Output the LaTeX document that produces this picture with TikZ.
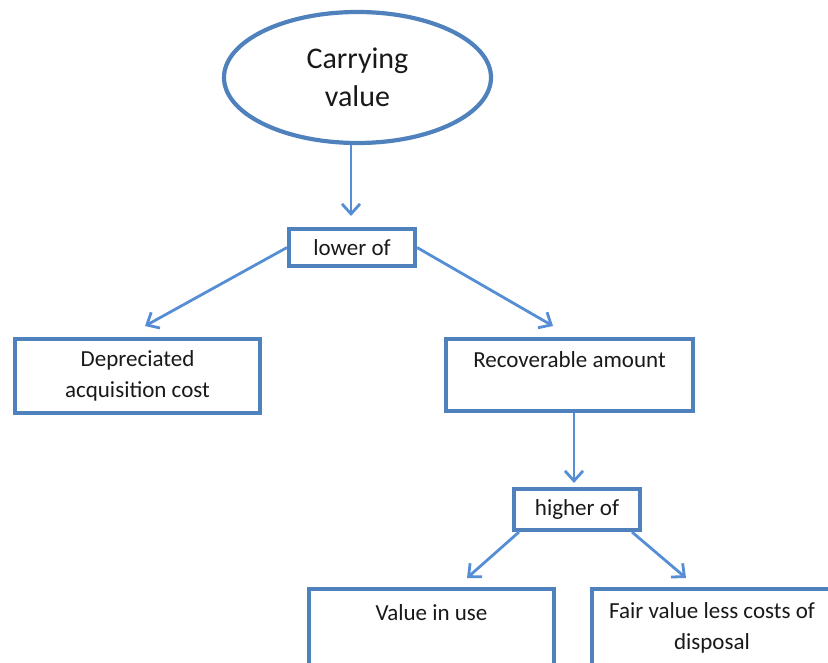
\documentclass[tikz,border=0pt]{standalone}
\usepackage{fontspec}
\setmainfont{Carlito}
\usetikzlibrary{arrows.meta,shapes.geometric}
\definecolor{boxblue}{RGB}{79,129,189}
\definecolor{arrowblue}{RGB}{85,142,213}
\tikzset{
  box/.style={draw=boxblue, line width=4pt, rectangle, inner sep=0pt, align=center,
    text=black!90, font=\fontsize{23}{31}\selectfont},
  arr/.style={draw=arrowblue, line width=2.8pt, -{Straight Barb[length=10pt,width=18pt]}},
}

\begin{document}
\begin{tikzpicture}[x=1pt,y=-1pt]
			%%%%% START %%%%%
			\useasboundingbox (0,0) rectangle (828,663);
			\clip (0,0) rectangle (828,663);
			
			\node[ellipse, draw=boxblue, line width=4.2pt, minimum width=267pt, minimum height=131pt,
			  align=center, text=black!90, font=\fontsize{30}{38}\selectfont] (carrying) at (357.5,77.5) {Carrying\\value};
			
			\node[box, minimum width=126pt, minimum height=37pt] (lower) at (352,247.5) {lower of};
			
			\node[box, minimum width=245pt, minimum height=74pt] (deprec) at (137.5,376) {Depreciated\\acquisition cost};
			\node[box, minimum width=247pt, minimum height=72pt] (recov) at (569.5,375) {Recoverable amount\\~};
			
			\node[box, minimum width=126pt, minimum height=41pt] (higher) at (577,509.5) {higher of};
			
			\node[box, minimum width=245pt, minimum height=79pt] (inuse) at (431.5,628) {Value in use\\~};
			\node[box, minimum width=240pt, minimum height=79pt] (fairval) at (712,628) {Fair value less costs of\\disposal};
			
			% arrow tips
			\coordinate (tipLower) at (351,216);
			\coordinate (tipDeprec) at (145,326);
			\coordinate (tipRecov) at (553,326);
			\coordinate (tipHigher) at (574,483);
			\coordinate (tipInuse) at (467,578);
			\coordinate (tipFair) at (686,578);
			
			\draw[arr] (carrying.south -| tipLower) -- (tipLower);
			\draw[arr] (lower.west) -- (tipDeprec);
			\draw[arr] (lower.east) -- (tipRecov);
			\draw[arr] (recov.south -| tipHigher) -- (tipHigher);
			\draw[arr] ([xshift=7pt]higher.south west) -- (tipInuse);
			\draw[arr] ([xshift=-10pt]higher.south east) -- (tipFair);
			
			%%%%% END %%%%%
\end{tikzpicture}
\end{document}
